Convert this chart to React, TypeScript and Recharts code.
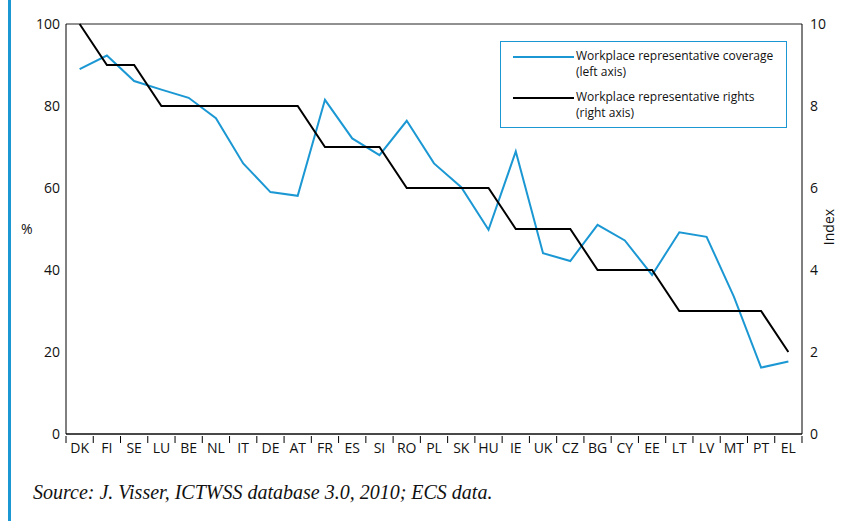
import React from 'react';
import { LineChart, Line, XAxis, YAxis, CartesianGrid, Legend } from 'recharts';

const countries = ['DK','FI','SE','LU','BE','NL','IT','DE','AT','FR','ES','SI','RO','PL','SK','HU','IE','UK','CZ','BG','CY','EE','LT','LV','MT','PT','EL'];
const coverage = [89, 92.3, 86.1, 84, 82, 77, 66, 59, 58.1, 81.5, 72.1, 68, 76.4, 66, 60.2, 49.8, 68.9, 44.1, 42.2, 51, 47.2, 38.8, 49.2, 48.1, 33.5, 16.2, 17.7];
const rights = [10, 9, 9, 8, 8, 8, 8, 8, 8, 7, 7, 7, 6, 6, 6, 6, 5, 5, 5, 4, 4, 4, 3, 3, 3, 3, 2];
const leftTicks = [0, 20, 40, 60, 80, 100];
const rightTicks = [0, 2, 4, 6, 8, 10];

const seriesNames = {
  coverage: ['Workplace representative coverage', '(left axis)'],
  rights: ['Workplace representative rights', '(right axis)'],
};

const BLUE = '#1b98d3';
const FONT = '"Open Sans", sans-serif';

const data = countries.map((c, i) => ({ country: c, coverage: coverage[i], rights: rights[i] }));

const XTick = (props: any) => {
  const { x, y, payload, width, visibleTicksCount, index } = props;
  const bw = width / visibleTicksCount;
  const top = y - 8;
  return (
    <g>
      <line x1={x - bw / 2} x2={x - bw / 2} y1={top} y2={top + 7} stroke="#000" strokeWidth={1} />
      {index === visibleTicksCount - 1 && (
        <line x1={x + bw / 2} x2={x + bw / 2} y1={top} y2={top + 7} stroke="#000" strokeWidth={1} />
      )}
      <text x={x} y={top + 16.5} textAnchor="middle" fontSize={14} fontFamily={FONT} fill="#111">
        {payload.value}
      </text>
    </g>
  );
};

const LegendBox = () => (
  <div style={{ fontFamily: FONT, fontSize: 12, color: '#111', lineHeight: '16px', textAlign: 'left' }}>
    {(['coverage', 'rights'] as const).map((k, i) => (
      <div key={k} style={{ display: 'flex', alignItems: 'flex-start', marginTop: i === 0 ? 6 : 9 }}>
        <div style={{ width: 61, height: 2, background: k === 'coverage' ? BLUE : '#000', marginTop: 8, marginLeft: 12, marginRight: 2 }} />
        <div>
          <div>{seriesNames[k][0]}</div>
          <div>{seriesNames[k][1]}</div>
        </div>
      </div>
    ))}
  </div>
);

export default function App() {
  return (
    <div style={{ position: 'absolute', left: 0, top: 0, width: 847, height: 521, background: '#fff' }}>
      <div style={{ position: 'absolute', left: 8, top: 0, width: 3, height: 521, background: BLUE }} />
      <LineChart width={847} height={521} data={data} margin={{ top: 24, right: 5, left: 10, bottom: 57 }}>
        <CartesianGrid horizontal vertical={false} stroke="#222" strokeWidth={1} />
        <XAxis
          dataKey="country"
          height={30}
          axisLine={{ stroke: '#000', strokeWidth: 1 }}
          tickLine={false}
          interval={0}
          tick={<XTick />}
          tickSize={8}
          padding={{ left: 13.63, right: 13.63 }}
        />
        <YAxis
          yAxisId="left"
          domain={[0, 100]}
          ticks={leftTicks}
          width={56}
          axisLine={{ stroke: '#000', strokeWidth: 1 }}
          tickLine={false}
          tickSize={0}
          tickMargin={6}
          tick={{ fontSize: 14, fontFamily: FONT, fill: '#111' }}
          interval={0}
          label={{ value: '%', position: 'insideLeft', offset: 11, fontSize: 14, fontFamily: FONT, fill: '#111' }}
        />
        <YAxis
          yAxisId="right"
          orientation="right"
          domain={[0, 10]}
          ticks={rightTicks}
          width={40}
          axisLine={{ stroke: '#000', strokeWidth: 1 }}
          tickLine={false}
          tickSize={0}
          tickMargin={8}
          tick={{ fontSize: 14, fontFamily: FONT, fill: '#111' }}
          interval={0}
        />
        <Legend
          layout="horizontal"
          verticalAlign="middle"
          align="center"
          content={<LegendBox />}
          wrapperStyle={{
            position: 'absolute',
            left: 500,
            top: 41,
            width: 287,
            height: 87,
            border: `1.5px solid ${BLUE}`,
            background: '#fff',
            boxSizing: 'border-box',
          }}
        />
        <Line yAxisId="left" type="linear" dataKey="coverage" stroke={BLUE} strokeWidth={2} dot={false} isAnimationActive={false} />
        <Line yAxisId="right" type="linear" dataKey="rights" stroke="#000" strokeWidth={2} dot={false} isAnimationActive={false} />
      </LineChart>
      <div style={{ position: 'absolute', left: 828, top: 227, transform: 'translate(-50%, -50%) rotate(-90deg)', fontFamily: FONT, fontSize: 14, color: '#111' }}>
        Index
      </div>
      <div style={{ position: 'absolute', left: 33, top: 481, fontFamily: '"Liberation Serif", serif', fontStyle: 'italic', fontSize: 20, color: '#111', whiteSpace: 'nowrap' }}>
        Source: J. Visser, ICTWSS database 3.0, 2010; ECS data.
      </div>
    </div>
  );
}
